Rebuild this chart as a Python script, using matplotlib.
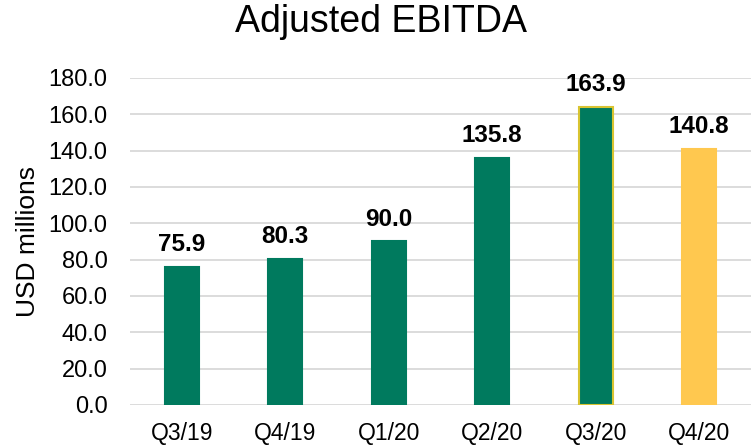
import matplotlib
matplotlib.use('Agg')
import matplotlib.pyplot as plt

quarters = ['Q3/19', 'Q4/19', 'Q1/20', 'Q2/20', 'Q3/20', 'Q4/20']
ebitda = [75.9, 80.3, 90.0, 135.8, 163.9, 140.8]
colors = ['#007A5E'] * 5 + ['#FFC84F']
edges = ['#007A5E'] * 4 + ['#D8C431', '#FFC84F']

plt.rcParams['font.family'] = ['Liberation Sans', 'DejaVu Sans']

fig = plt.figure(figsize=(7.51, 4.45), dpi=100)
ax = fig.add_axes([0.173, 0.09, 0.827, 0.735])

x = range(len(quarters))
ax.bar(x, ebitda, width=0.33, color=colors, edgecolor=edges, linewidth=1.5, zorder=3)
for xi, v in zip(x, ebitda):
    ax.text(xi, v + 6, f'{v:.1f}', ha='center', va='bottom', fontsize=17.5,
            fontweight='bold', color='black')

ax.set_xlim(-0.5, 5.5)
ax.set_ylim(0, 180)
ax.set_yticks(range(0, 181, 20))
ax.set_yticklabels([f'{t:.1f}' for t in range(0, 181, 20)], fontsize=17)
ax.set_xticks(list(x))
ax.set_xticklabels(quarters, fontsize=16.5)
ax.tick_params(axis='y', length=0, pad=16)
ax.tick_params(axis='x', length=0, pad=12)
ax.grid(True, axis='y', color='#D9D9D9', linewidth=1.3, zorder=0)
for s in ax.spines.values():
    s.set_visible(False)
ax.set_ylabel('USD millions', fontsize=19, labelpad=6)
fig.text(0.507, 0.95, 'Adjusted EBITDA', ha='center', va='center', fontsize=27)

plt.savefig('out.png', dpi=100)
